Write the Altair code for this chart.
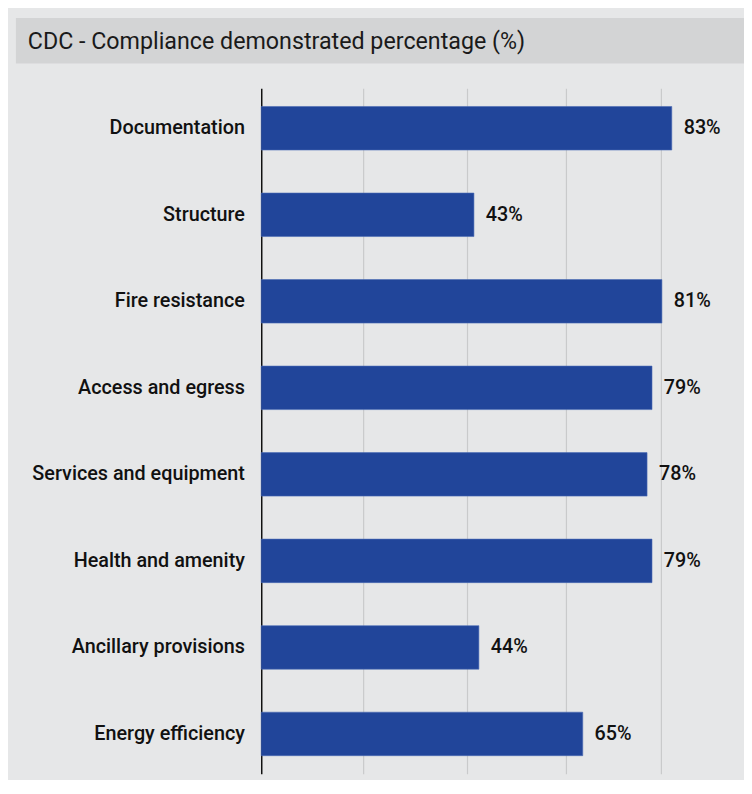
import altair as alt
import pandas as pd

categories = ["Documentation", "Structure", "Fire resistance", "Access and egress",
              "Services and equipment", "Health and amenity", "Ancillary provisions",
              "Energy efficiency"]
values = [83, 43, 81, 79, 78, 79, 44, 65]
grid_ticks = [20.6, 41.6, 61.6, 80.8]
title_text = "CDC - Compliance demonstrated percentage (%)"

df = pd.DataFrame({"cat": categories, "val": values})
df["label"] = df["val"].astype(str) + "%"

FONT = "Roboto"
BAR = "#21459a"

y_enc = alt.Y("cat:N", sort=categories, title=None,
              scale=alt.Scale(paddingInner=0.497, paddingOuter=0.21),
              axis=alt.Axis(domain=True, domainColor="#111111", domainWidth=1.5,
                            ticks=False, labelFont=FONT, labelFontSize=20,
                            labelFontWeight=500, labelColor="#111111",
                            labelPadding=17, labelLimit=260, grid=False))
x_enc = alt.X("val:Q", title=None,
              scale=alt.Scale(domain=[0, 97.6], nice=False, zero=True),
              axis=alt.Axis(values=grid_ticks, labels=False, ticks=False, domain=False,
                            grid=True, gridColor="#c9cacb", gridWidth=1.2))

bars = alt.Chart(df).mark_bar(color=BAR, stroke="#4a6bb5", strokeWidth=0.6).encode(
    x=x_enc, y=y_enc)

texts = alt.Chart(df).mark_text(align="left", baseline="middle", dx=12, font=FONT,
                                fontSize=20, fontWeight=500, color="#111111").encode(
    x="val:Q", y=alt.Y("cat:N", sort=categories), text="label:N")

tdf = pd.DataFrame({"t": [title_text]})
title_bar = alt.Chart(tdf).mark_rect(color="#d3d4d5").encode(
    x=alt.value(-248), x2=alt.value(488), y=alt.value(-71), y2=alt.value(-25))
title_txt = alt.Chart(tdf).mark_text(align="left", baseline="middle", font=FONT,
                                     fontSize=23.5, color="#1a1a1a").encode(
    x=alt.value(-236), y=alt.value(-47), text="t:N")

chart = alt.layer(bars, texts, title_bar, title_txt).properties(
    width=488, height=693,
    autosize=alt.AutoSizeParams(type="none"),
    padding={"left": 256, "top": 77, "right": 0, "bottom": 2},
    background="#e6e7e8",
).configure_view(stroke=None)

chart.save("out.html", embed_options={"renderer": "svg", "actions": False})
